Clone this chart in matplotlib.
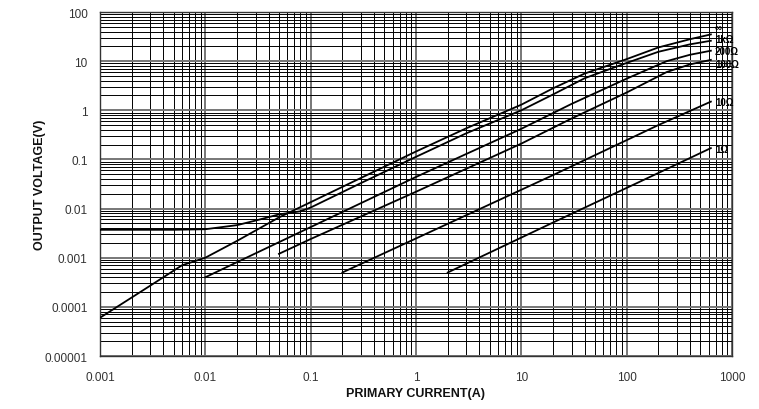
"""
Output voltage vs primary current for several burden resistances (log-log).
"""
import matplotlib
matplotlib.use("Agg")
import matplotlib.pyplot as plt
from matplotlib.ticker import LogLocator, FixedLocator, FixedFormatter, NullFormatter

# ── Data ──────────────────────────────────────────────────────────────────────

inf_i = [0.001, 0.003, 0.006, 0.01, 0.02, 0.05, 0.1, 0.3, 1, 3, 10, 20, 40, 100, 200, 400, 630]
inf_v = [6e-5, 2.7e-4, 7e-4, 1.0e-3, 2.2e-3, 6.6e-3, 0.0135, 0.042, 0.145, 0.43, 1.3, 2.8, 5.6, 11, 19, 28, 35]

k1_i = [0.001, 0.005, 0.01, 0.02, 0.03, 0.05, 0.08, 0.1, 0.3, 1, 3, 10, 20, 40, 100, 200, 400, 630]
k1_v = [0.0037, 0.0037, 0.0038, 0.0046, 0.0057, 0.0076, 0.0088, 0.0105, 0.033, 0.113, 0.34, 1.0, 2.1, 4.5, 9.2, 15.5, 22, 26]

r200_i = [0.01, 0.1, 1, 10, 30, 100, 240, 400, 630]
r200_v = [0.0004, 0.0042, 0.044, 0.42, 1.35, 4.4, 10, 13.5, 16.3]

r100_i = [0.05, 0.1, 1, 10, 30, 100, 240, 400, 630]
r100_v = [0.0012, 0.0024, 0.022, 0.21, 0.68, 2.3, 6.0, 8.6, 10.6]

r10_i = [0.2, 2, 20, 200, 630]
r10_v = [0.0005, 0.0049, 0.048, 0.5, 1.5]

r1_i = [2, 20, 200, 630]
r1_v = [0.0005, 0.0052, 0.053, 0.17]

series = [
    ("∞",    inf_i,  inf_v,  5),
    ("1kΩ",  k1_i,   k1_v,   1),
    ("200Ω", r200_i, r200_v, 0),
    ("100Ω", r100_i, r100_v, -3),
    ("10Ω",  r10_i,  r10_v,  0),
    ("1Ω",   r1_i,   r1_v,   -1),
]

x_ticks = [0.001, 0.01, 0.1, 1, 10, 100, 1000]
x_labels = ["0.001", "0.01", "0.1", "1", "10", "100", "1000"]
y_ticks = [1e-5, 1e-4, 1e-3, 1e-2, 0.1, 1, 10, 100]
y_labels = ["0.00001", "0.0001", "0.001", "0.01", "0.1", "1", "10", "100"]

# ── Figure ─────────────────────────────────────────────────────────────────────

plt.rcParams["font.family"] = ["Liberation Sans", "DejaVu Sans"]

fig = plt.figure(figsize=(7.59, 4.10), dpi=100)
ax = fig.add_axes([100 / 759, 1 - 357 / 410, 632 / 759, 344 / 410])

for name, xs, ys, dy in series:
    ax.plot(xs, ys, color="black", linewidth=1.3, zorder=3)
    ax.annotate(name, (xs[-1], ys[-1]), xytext=(3, dy), textcoords="offset points",
                ha="left", va="center", fontsize=7, fontweight="bold",
                annotation_clip=False, zorder=4)

ax.set_xscale("log")
ax.set_yscale("log")
ax.set_xlim(0.001, 1000)
ax.set_ylim(1e-5, 100)

ax.xaxis.set_major_locator(FixedLocator(x_ticks))
ax.xaxis.set_major_formatter(FixedFormatter(x_labels))
ax.yaxis.set_major_locator(FixedLocator(y_ticks))
ax.yaxis.set_major_formatter(FixedFormatter(y_labels))
ax.xaxis.set_minor_locator(LogLocator(base=10, subs=range(2, 10), numticks=20))
ax.yaxis.set_minor_locator(LogLocator(base=10, subs=range(2, 10), numticks=20))
ax.xaxis.set_minor_formatter(NullFormatter())
ax.yaxis.set_minor_formatter(NullFormatter())

ax.grid(True, which="major", color="#777777", linewidth=1.4, zorder=1)
ax.grid(True, which="minor", color="black", linewidth=0.7, zorder=1)
ax.set_axisbelow(True)

ax.tick_params(which="both", length=0)
ax.tick_params(axis="x", pad=11, labelsize=8.5, colors="#333333")
ax.tick_params(axis="y", pad=9, labelsize=8.5, colors="#333333")

for spine in ax.spines.values():
    spine.set_color("#333333")
    spine.set_linewidth(1.0)

ax.set_xlabel("PRIMARY CURRENT(A)", fontsize=9, fontweight="bold",
              color="#111111", labelpad=3)
ax.set_ylabel("OUTPUT VOLTAGE(V)", fontsize=9, fontweight="bold",
              color="#111111", labelpad=-1)

fig.savefig("out.png", dpi=100, facecolor="white")
